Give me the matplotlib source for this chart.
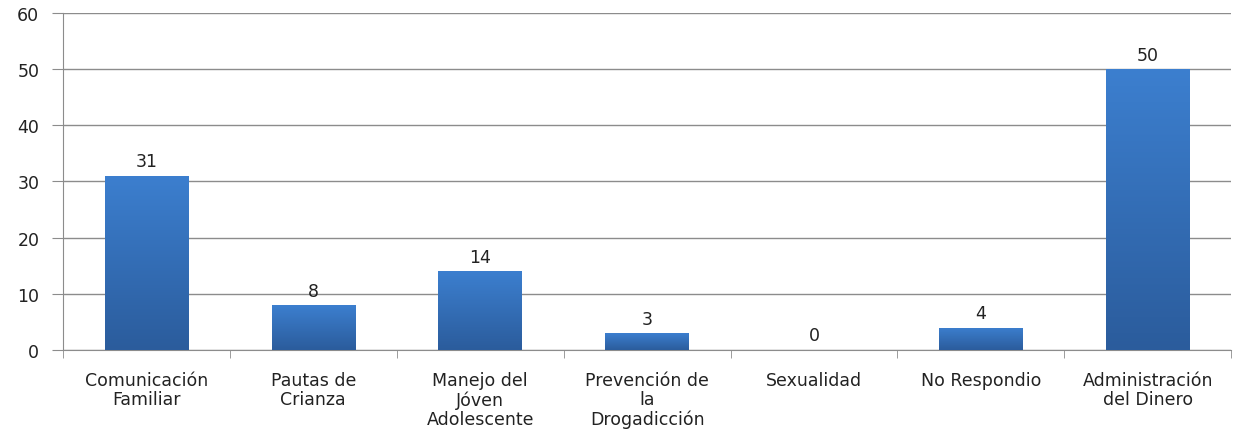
import numpy as np
import matplotlib.pyplot as plt
from matplotlib.colors import LinearSegmentedColormap

categorias = ['Comunicación\nFamiliar', 'Pautas de\nCrianza', 'Manejo del\nJóven\nAdolescente',
              'Prevención de\nla\nDrogadicción', 'Sexualidad', 'No Respondio',
              'Administración\ndel Dinero']
valores = [31, 8, 14, 3, 0, 4, 50]
y_ticks = [0, 10, 20, 30, 40, 50, 60]

plt.rcParams['font.family'] = ['DejaVu Sans']
gris = '#8c8c8c'

fig = plt.figure(figsize=(12.44, 4.35), dpi=100)
ax = fig.add_axes([0.0506, 0.193, 0.9392, 0.775])

x = np.arange(len(valores))
bars = ax.bar(x, valores, width=0.5, color='none', edgecolor='none', zorder=3)

# vertical gradient inside each bar
degradado = LinearSegmentedColormap.from_list('azul', ['#2b5c9c', '#3c7fcf'])
grad = np.linspace(0, 1, 256).reshape(-1, 1)
for rect in bars:
    h = rect.get_height()
    if h <= 0:
        continue
    x0 = rect.get_x()
    im = ax.imshow(grad, cmap=degradado, origin='lower', aspect='auto',
                   extent=(x0, x0 + rect.get_width(), 0, h), zorder=3)
    im.set_clip_path(rect)

for xi, v in zip(x, valores):
    ax.annotate(str(v), xy=(xi, v), xytext=(0, 4), textcoords='offset points',
                ha='center', va='bottom', fontsize=12.5, color='#222222')

ax.set_xlim(-0.5, len(valores) - 0.5)
ax.set_ylim(0, 60)
ax.set_yticks(y_ticks)
ax.yaxis.grid(True, color=gris, linewidth=1)
ax.set_axisbelow(True)

ax.set_xticks(x)
ax.set_xticklabels(categorias, fontsize=12.5, color='#222222', linespacing=1.1)
ax.tick_params(axis='x', length=0, pad=15)
ax.set_xticks(np.arange(len(valores) + 1) - 0.5, minor=True)
ax.tick_params(axis='x', which='minor', length=6, color=gris, direction='out')
ax.tick_params(axis='y', length=8, color=gris, labelsize=12.5, labelcolor='#222222', pad=9)

for s in ['top', 'right']:
    ax.spines[s].set_visible(False)
ax.spines['left'].set_color(gris)
ax.spines['bottom'].set_color(gris)

fig.savefig('out.png', dpi=100)
